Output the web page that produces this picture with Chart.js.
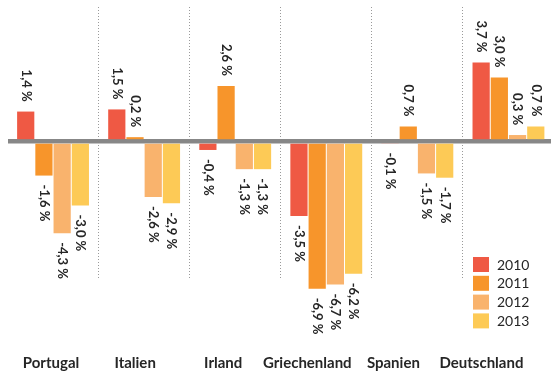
<!DOCTYPE html>
<html lang="de">
<head>
    <meta charset="UTF-8">
    <title>Wachstum BIP</title>
    <style>
        body {
            margin: 0;
            background: #ffffff;
            overflow: hidden;
        }
        .container {
            width: 554px;
            height: 371px;
        }
    </style>
</head>
<body>
    <div class="container">
        <canvas id="gdpChart"></canvas>
    </div>
    <script src="https://cdn.jsdelivr.net/npm/chart.js"></script>
    <script>
        const countries = ['Portugal', 'Italien', 'Irland', 'Griechenland', 'Spanien', 'Deutschland'];
        const years = ['2010', '2011', '2012', '2013'];
        const values2010 = [1.4, 1.5, -0.4, -3.5, -0.1, 3.7];
        const values2011 = [-1.6, 0.2, 2.6, -6.9, 0.7, 3.0];
        const values2012 = [-4.3, -2.6, -1.3, -6.7, -1.5, 0.3];
        const values2013 = [-3.0, -2.9, -1.3, -6.2, -1.7, 0.7];
        const colors = ['#ef5944', '#f7952b', '#f9b36d', '#fdca56'];

        const textColor = '#262626';

        function formatValue(v) {
            return v.toFixed(1).replace('.', ',') + ' %';
        }

        // value labels, rotated so they read top to bottom
        const barLabels = {
            id: 'barLabels',
            afterDatasetsDraw(chart) {
                const ctx = chart.ctx;
                ctx.save();
                ctx.fillStyle = textColor;
                ctx.font = 'bold 13px Lato, sans-serif';
                ctx.textBaseline = 'middle';
                chart.data.datasets.forEach((ds, i) => {
                    chart.getDatasetMeta(i).data.forEach((bar, j) => {
                        const v = ds.data[j];
                        ctx.save();
                        if (v >= 0) {
                            ctx.translate(bar.x, bar.y - 10);
                            ctx.rotate(Math.PI / 2);
                            ctx.textAlign = 'right';
                        } else {
                            ctx.translate(bar.x, bar.y + 9);
                            ctx.rotate(Math.PI / 2);
                            ctx.textAlign = 'left';
                        }
                        ctx.fillText(formatValue(v), 0, 0);
                        ctx.restore();
                    });
                });
                ctx.restore();
            }
        };

        // country names under the chart
        const nameNudge = [-2, -9, -12, -19, -24, -27];
        const countryLabels = {
            id: 'countryLabels',
            afterDraw(chart) {
                const ctx = chart.ctx;
                const xs = chart.scales.x;
                ctx.save();
                ctx.fillStyle = textColor;
                ctx.font = 'bold 15px Lato, sans-serif';
                ctx.textAlign = 'center';
                ctx.textBaseline = 'middle';
                countries.forEach((c, i) => {
                    ctx.fillText(c, xs.getPixelForValue(i) + nameNudge[i], 363);
                });
                ctx.restore();
            }
        };

        // legend box inside the plot, lower right
        const boxLegend = {
            id: 'boxLegend',
            afterDraw(chart) {
                const ctx = chart.ctx;
                const x = 473, y0 = 257;
                ctx.save();
                ctx.font = '14px Lato, sans-serif';
                ctx.textBaseline = 'middle';
                ctx.textAlign = 'left';
                chart.data.datasets.forEach((ds, i) => {
                    const y = y0 + i * 18.8;
                    ctx.fillStyle = ds.backgroundColor;
                    ctx.fillRect(x, y, 16, 15);
                    ctx.fillStyle = textColor;
                    ctx.fillText(ds.label, x + 24, y + 8);
                });
                ctx.restore();
            }
        };

        new Chart(document.getElementById('gdpChart'), {
            type: 'bar',
            data: {
                labels: countries,
                datasets: [values2010, values2011, values2012, values2013].map((d, i) => ({
                    label: years[i],
                    data: d,
                    backgroundColor: colors[i],
                    borderWidth: 0,
                    clip: false
                }))
            },
            options: {
                responsive: true,
                maintainAspectRatio: false,
                animation: false,
                layout: {
                    padding: { top: 7, left: 7.5, right: 0, bottom: 93 }
                },
                datasets: {
                    bar: {
                        categoryPercentage: 0.8,
                        barPercentage: 0.945
                    }
                },
                scales: {
                    x: {
                        ticks: { display: false },
                        grid: {
                            offset: true,
                            drawTicks: false,
                            lineWidth: 1,
                            color: (c) => c.index === 0 ? 'rgba(0,0,0,0)' : '#9a9a9a'
                        },
                        border: { display: false, dash: [1, 2] }
                    },
                    y: {
                        min: -6.4,
                        max: 6.3,
                        z: 1,
                        ticks: { display: false, stepSize: 1 },
                        grid: {
                            drawTicks: false,
                            lineWidth: 4.5,
                            color: (c) => c.tick && c.tick.value === 0 ? '#878787' : 'rgba(0,0,0,0)'
                        },
                        border: { display: false }
                    }
                },
                plugins: {
                    legend: { display: false },
                    tooltip: { enabled: false }
                }
            },
            plugins: [barLabels, countryLabels, boxLegend]
        });
    </script>
</body>
</html>
